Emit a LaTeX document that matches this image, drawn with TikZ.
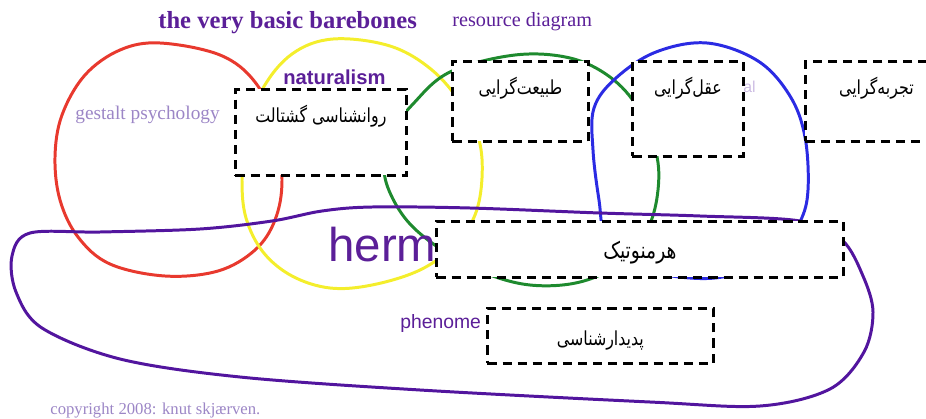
\documentclass[tikz,border=0pt]{standalone}
\usepackage{fontspec}
\usepackage{tikz}
\usetikzlibrary{positioning}
\setmainfont{Liberation Serif}
\setsansfont{Liberation Sans}
\newfontfamily\persian[Script=Arabic,FakeStretch=0.82]{DejaVu Sans}
\TeXXeTstate=1
\newcommand{\fa}[1]{{\persian\beginR#1\endR}}
\definecolor{ringred}{HTML}{E8392E}
\definecolor{ringyellow}{HTML}{F4EE2C}
\definecolor{ringgreen}{HTML}{1E8A2E}
\definecolor{ringblue}{HTML}{2B2BE3}
\definecolor{ringpurple}{HTML}{52159E}
\definecolor{deep}{HTML}{5B1F98}
\definecolor{pale}{HTML}{9C86C6}
\definecolor{faint}{HTML}{CDBDE3}
\tikzset{
  ring/.style={line width=1.7pt,line cap=round,line join=round},
  word/.style={inner sep=0pt,anchor=base west},
  pbox/.style={draw=black,fill=white,line width=1.6pt,dash pattern=on 5.2pt off 3.4pt,
    inner sep=0pt,anchor=north west,font=\fontsize{11}{13}\selectfont},
}
\begin{document}
\begin{tikzpicture}[x=0.02cm,y=-0.02cm]
  \useasboundingbox (0,0) rectangle (926,419);
  % the five loops
  \draw[ring,ringred] plot[smooth cycle,tension=0.6] coordinates {
    (160,43) (120,50) (85,75) (62,115) (55,157) (60,200) (78,237) (110,264)
    (165,276) (218,271) (255,250) (275,220) (282,180) (275,125) (255,82) (220,55)};
  \draw[ring,ringyellow] plot[smooth cycle,tension=0.6] coordinates {
    (333,39) (390,46) (432,70) (462,105) (479,140) (482,178) (475,215) (455,245)
    (420,270) (372,285) (330,288) (292,276) (263,252) (246,218) (242,180)
    (246,138) (262,90) (292,54)};
  \draw[ring,ringgreen] plot[smooth cycle,tension=0.6] coordinates {
    (515,55) (570,58) (610,77) (638,108) (656,152) (658,190) (648,228) (622,262)
    (580,282) (530,285) (482,272) (442,250) (410,224) (391,195) (384,168)
    (390,135) (413,104) (450,72)};
  \draw[ring,ringblue] plot[smooth cycle,tension=0.6] coordinates {
    (707,43) (758,61) (790,96) (805,137) (808,190) (800,222) (778,256) (732,275)
    (690,278) (642,268) (607,240) (599,200) (593,150) (594,108) (616,78) (656,52)};
  \draw[ring,ringpurple] plot[smooth cycle,tension=0.55] coordinates {
    (30,233) (100,232) (200,229) (272,221) (322,211) (372,207) (470,208)
    (600,213) (700,216) (800,221) (842,240) (863,276) (873,312) (864,352)
    (830,389) (760,406) (650,402) (420,390) (240,377) (120,359) (42,328)
    (16,292) (12,256)};
  % english labels
  \node[word,text=deep,font=\bfseries\fontsize{14}{16}\selectfont] (title) at (158,29) {the very basic barebones};
  \node[word,text=deep,font=\fontsize{11.5}{13}\selectfont] (sub) at (452,27) {resource diagram};
  \node[word,text=deep,font=\sffamily\bfseries\fontsize{11.5}{13}\selectfont] (natural) at (283,84) {naturalism};
  \node[word,text=pale,font=\fontsize{11}{13}\selectfont] (gestalt) at (75,119) {gestalt psychology};
  \node[word,text=faint,font=\sffamily\fontsize{9}{10}\selectfont] (ratio) at (743,92) {al};
  \node[word,text=deep,font=\sffamily\fontsize{27}{30}\selectfont] (hermen) at (328,261) {herm};
  \node[word,text=deep,font=\sffamily\fontsize{11}{13}\selectfont] (phenom) at (400,328) {phenome};
  \node[word,text=pale,font=\fontsize{9.5}{11}\selectfont] (copy) at (50,414) {copyright 2008: knut skj\ae rven.};
  % persian boxes
  \node[pbox,minimum width=3.42cm,text height=0.66cm,text depth=1.06cm] (gest) at (234,88) {\fa{روانشناسی گشتالت}};
  \node[pbox,minimum width=2.72cm,text height=0.66cm,text depth=0.94cm] (nat) at (451,60) {\fa{طبیعت‌گرایی}};
  \node[pbox,minimum width=2.22cm,text height=0.66cm,text depth=1.24cm] (rat) at (631,60) {\fa{عقل‌گرایی}};
  \node[pbox,minimum width=2.84cm,text height=0.66cm,text depth=0.94cm] (emp) at (804,60) {\fa{تجربه‌گرایی}};
  \node[pbox,minimum width=8.14cm,text height=0.74cm,text depth=0.38cm,font=\fontsize{13}{15}\selectfont] (herm) at (435,220) {\fa{هرمنوتیک}};
  \node[pbox,minimum width=4.52cm,text height=0.74cm,text depth=0.36cm] (phen) at (486,307) {\fa{پدیدارشناسی}};
\end{tikzpicture}
\end{document}
